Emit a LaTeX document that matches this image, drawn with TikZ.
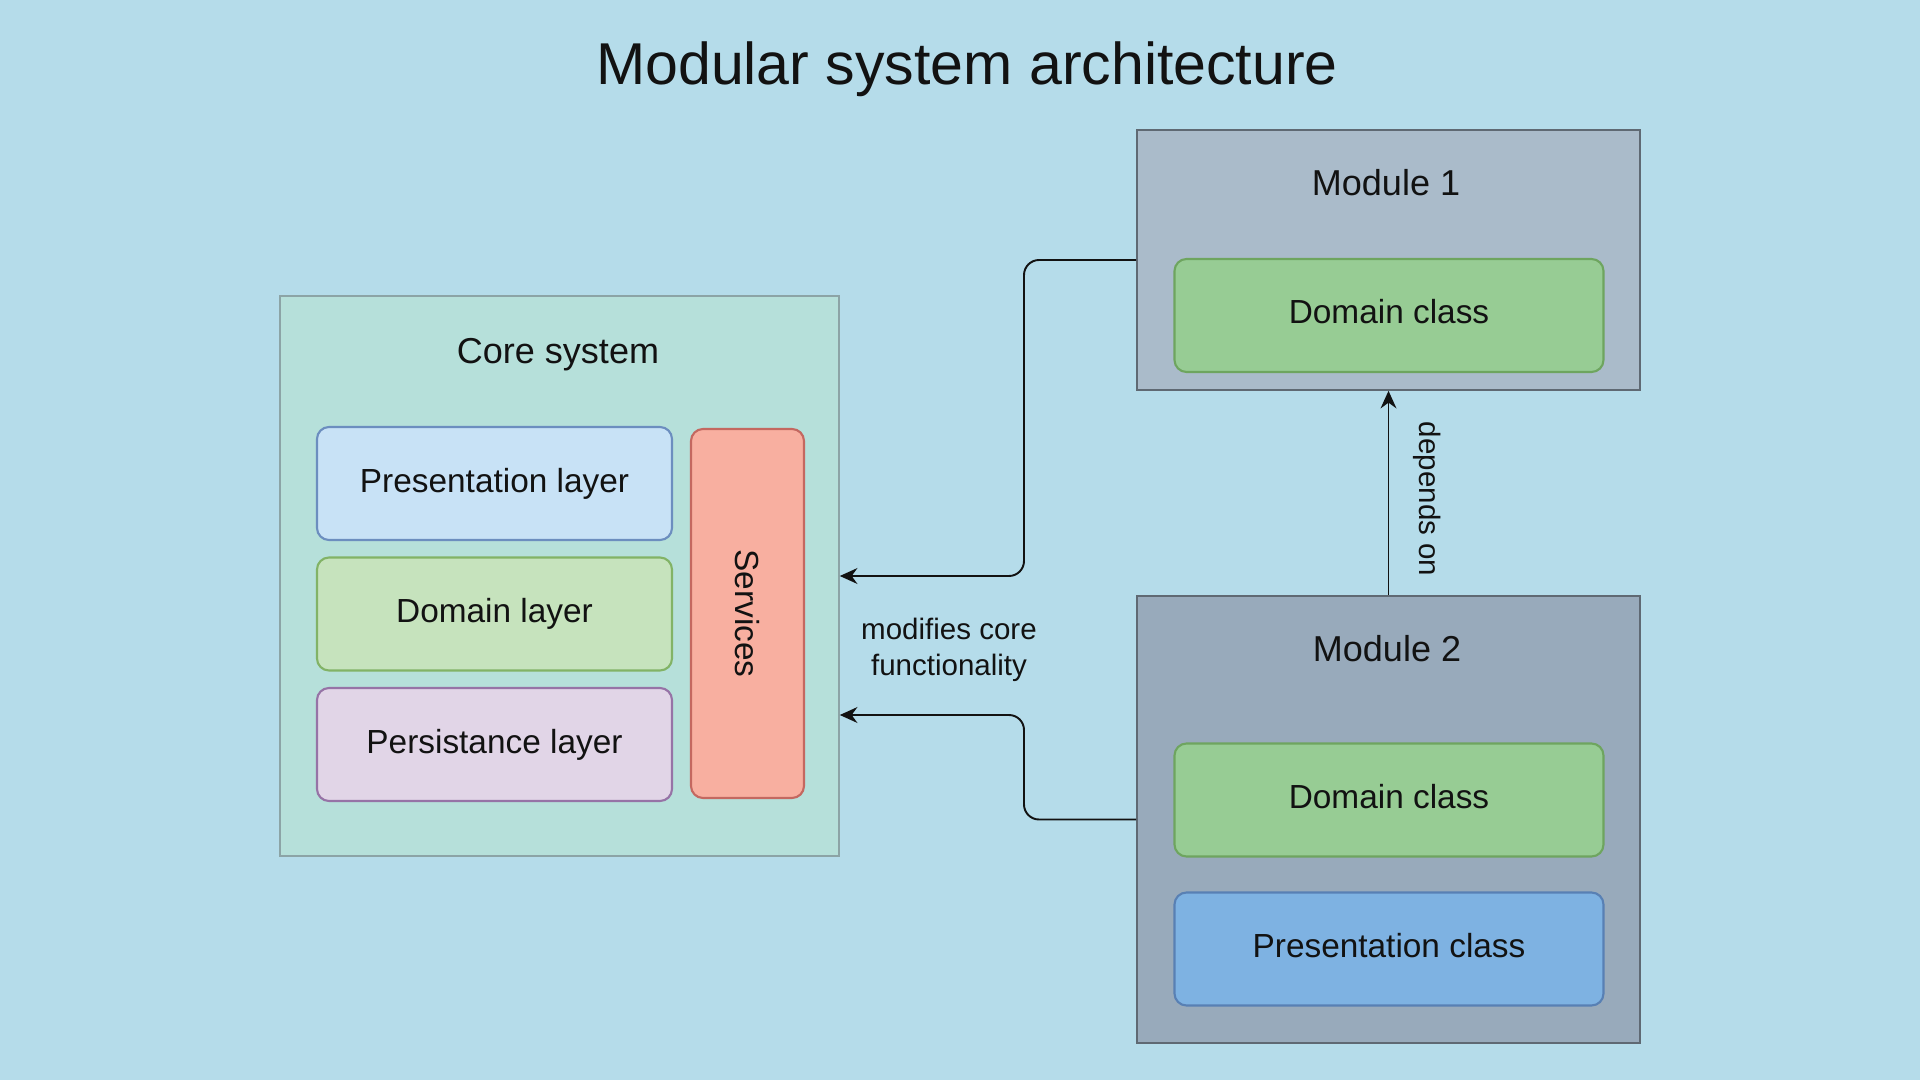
\documentclass[tikz,border=0pt]{standalone}
\usepackage{fontspec}
\setmainfont{Liberation Sans}
\usetikzlibrary{arrows.meta,positioning,calc}

\definecolor{bgblue}{RGB}{181,220,234}
\definecolor{inkdark}{RGB}{18,18,18}
\definecolor{coreFill}{RGB}{182,224,218}
\definecolor{coreLine}{RGB}{140,164,166}
\definecolor{presFill}{RGB}{200,226,246}
\definecolor{presLine}{RGB}{108,142,191}
\definecolor{domFill}{RGB}{198,227,189}
\definecolor{domLine}{RGB}{130,179,102}
\definecolor{persFill}{RGB}{225,213,231}
\definecolor{persLine}{RGB}{150,115,166}
\definecolor{servFill}{RGB}{248,175,160}
\definecolor{servLine}{RGB}{196,104,96}
\definecolor{modOneFill}{RGB}{170,187,202}
\definecolor{modTwoFill}{RGB}{152,170,187}
\definecolor{modLine}{RGB}{95,105,115}
\definecolor{clsGreen}{RGB}{151,204,148}
\definecolor{clsGreenLine}{RGB}{110,165,95}
\definecolor{clsBlue}{RGB}{126,178,226}
\definecolor{clsBlueLine}{RGB}{88,128,180}

\begin{document}
\begin{tikzpicture}[
  every node/.style={font=\fontsize{9.5}{11}\selectfont, text=inkdark},
  frame/.style={draw, line width=.45pt, inner sep=0pt},
  heading/.style={font=\fontsize{10.25}{12}\selectfont},
  layer/.style={draw, rounded corners=.12cm, line width=.6pt,
    minimum width=3.55cm, minimum height=1.13cm},
  cls/.style={draw, rounded corners=.12cm, line width=.6pt, text depth=2.3pt,
    minimum width=4.29cm, minimum height=1.13cm},
  link/.style={draw=inkdark, line width=.55pt, rounded corners=.15cm,
    -{Stealth[length=5pt,width=4.5pt]}},
  note/.style={font=\fontsize{8.4}{10.1}\selectfont}
]
\fill[bgblue] (0,0) rectangle (19.2,-10.8);
\useasboundingbox (0,0) rectangle (19.2,-10.8);

\node[font=\fontsize{16.8}{20}\selectfont] (title) at (9.67,-.69)
  {Modular system architecture};

% core system and its layers
\node[frame, fill=coreFill, draw=coreLine, minimum width=5.59cm,
  minimum height=5.6cm] (core) at (5.595,-5.76) {};
\node[heading] (coretitle) at (5.58,-3.55) {Core system};
\node[layer, fill=presFill, draw=presLine] (preslayer) at (4.945,-4.835)
  {Presentation layer};
\node[layer, fill=domFill, draw=domLine] (domlayer) at (4.945,-6.14)
  {Domain layer};
\node[layer, fill=persFill, draw=persLine] (perslayer) at (4.945,-7.445)
  {Persistance layer};
\node[layer, fill=servFill, draw=servLine, rotate=-90,
  minimum width=3.69cm, minimum height=1.13cm] (services) at (7.475,-6.135)
  {Services};

% modules
\node[frame, fill=modOneFill, draw=modLine, minimum width=5.03cm,
  minimum height=2.6cm] (m1) at (13.885,-2.6) {};
\node[heading] (m1title) at (13.86,-1.83) {Module 1};
\node[cls, fill=clsGreen, draw=clsGreenLine] (m1dom) at (13.89,-3.155)
  {Domain class};

\node[frame, fill=modTwoFill, draw=modLine, minimum width=5.03cm,
  minimum height=4.47cm] (m2) at (13.885,-8.195) {};
\node[heading] (m2title) at (13.87,-6.49) {Module 2};
\node[cls, fill=clsGreen, draw=clsGreenLine] (m2dom) at (13.89,-8.0)
  {Domain class};
\node[cls, fill=clsBlue, draw=clsBlueLine] (m2pres) at (13.89,-9.49)
  {Presentation class};

% connectors
\coordinate (bend) at (10.24,0);
\coordinate (corein) at ([yshift=-1.39cm]core.east);
\draw[link] (m1.west) -| (bend |- core.east) -- (core.east);
\draw[link] (m2.west) -| (bend |- corein) -- (corein);
\node[note, align=center] (modnote) at (9.49,-6.5)
  {modifies core\\functionality};
\draw[link] (m2.north) -- (m1.south)
  node[note, pos=.47, xshift=.39cm, rotate=-90] (dep) {depends on};
\end{tikzpicture}
\end{document}
